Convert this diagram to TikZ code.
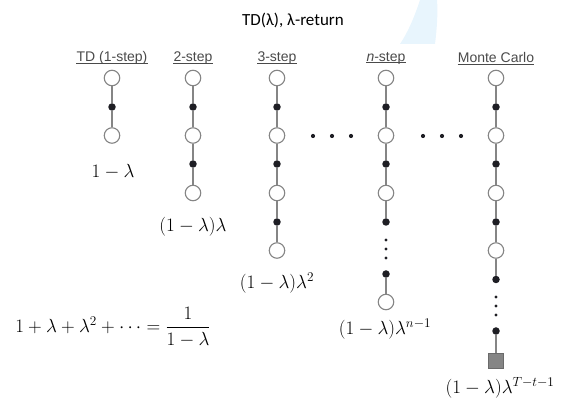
\RequirePackage{fix-cm}
\documentclass[tikz,border=0pt]{standalone}
\usepackage{amsmath}
\usepackage{fontspec}
\newfontfamily\hdrfont{Liberation Sans}
\newfontfamily\titlefont{Carlito}
\definecolor{linegray}{HTML}{858585}
\definecolor{hdrgray}{HTML}{4A4A4A}
\definecolor{dotblack}{HTML}{1E1E24}
\definecolor{paleblue}{HTML}{E8F5FD}
\begin{document}
\begin{tikzpicture}[x=1pt,y=-1pt,
  state/.style={circle,draw=linegray,fill=white,line width=1.1pt,minimum size=15.5pt,inner sep=0pt},
  act/.style={circle,fill=dotblack,minimum size=7.5pt,inner sep=0pt},
  term/.style={rectangle,draw=linegray!80!black,fill=linegray,line width=1pt,minimum size=15pt,inner sep=0pt},
  sdot/.style={circle,fill=dotblack,minimum size=3.2pt,inner sep=0pt},
  hdot/.style={circle,fill=dotblack,minimum size=4.2pt,inner sep=0pt},
  link/.style={draw=linegray,line width=1.1pt},
  hdr/.style={font=\hdrfont\fontsize{14}{16}\selectfont,text=hdrgray,inner sep=0pt},
  uline/.style={draw=hdrgray,line width=0.8pt},
  mlab/.style={font=\fontsize{19}{22}\selectfont,inner sep=0pt}]
\useasboundingbox (0,0) rectangle (582,419);
% pale background shape
\fill[paleblue] (420,0) .. controls (414,18) and (408,32) .. (400,44) -- (435,44) .. controls (437,28) and (438,12) .. (437,0) -- cycle;
% title
\node[font=\titlefont\fontsize{17}{20}\selectfont,inner sep=0pt] (title) at (293,20) {TD(λ), λ-return};
% headers
\node[hdr] (h1) at (112,58) {TD (1-step)};
\node[hdr] (h2) at (193,58) {2-step};
\node[hdr] (h3) at (277,58) {3-step};
\node[hdr] (h4) at (386,58) {\textit{n}-step};
\node[hdr] (h5) at (496,58) {Monte Carlo};
\foreach \h in {h1,h2,h3,h4,h5}
  \draw[uline] ([yshift=-1.6pt]\h.base west) -- ([yshift=-1.6pt]\h.base east);
% column 1
\node[state] (a1) at (112,78) {};
\node[act] (a2) at (112,107) {};
\node[state] (a3) at (112,135.5) {};
\draw[link] (a1) -- (a2) -- (a3);
% column 2
\node[state] (b1) at (193,78) {};
\node[act] (b2) at (193,107) {};
\node[state] (b3) at (193,135.5) {};
\node[act] (b4) at (193,164) {};
\node[state] (b5) at (193,193) {};
\draw[link] (b1) -- (b2) -- (b3) -- (b4) -- (b5);
% column 3
\node[state] (c1) at (277,78) {};
\node[act] (c2) at (277,107) {};
\node[state] (c3) at (277,135.5) {};
\node[act] (c4) at (277,164) {};
\node[state] (c5) at (277,193) {};
\node[act] (c6) at (277,222) {};
\node[state] (c7) at (277,250.5) {};
\draw[link] (c1) -- (c2) -- (c3) -- (c4) -- (c5) -- (c6) -- (c7);
% column 4 (n-step)
\node[state] (d1) at (386,78) {};
\node[act] (d2) at (386,107) {};
\node[state] (d3) at (386,135.5) {};
\node[act] (d4) at (386,164) {};
\node[state] (d5) at (386,193) {};
\node[act] (d6) at (386,222) {};
\node[sdot] (dv1) at (386,240) {};
\node[sdot] (dv2) at (386,249) {};
\node[sdot] (dv3) at (386,258) {};
\node[act] (d7) at (386,274) {};
\node[state] (d8) at (386,302) {};
\draw[link] (d1) -- (d2) -- (d3) -- (d4) -- (d5) -- (d6);
\draw[link] (d7) -- (d8);
% column 5 (Monte Carlo)
\node[state] (e1) at (496,78) {};
\node[act] (e2) at (496,107) {};
\node[state] (e3) at (496,135.5) {};
\node[act] (e4) at (496,164) {};
\node[state] (e5) at (496,193) {};
\node[act] (e6) at (496,222) {};
\node[state] (e7) at (496,250.5) {};
\node[act] (e8) at (496,279.5) {};
\node[sdot] (ev1) at (496,297) {};
\node[sdot] (ev2) at (496,306) {};
\node[sdot] (ev3) at (496,315) {};
\node[act] (e9) at (496,331) {};
\node[term] (e10) at (496,361) {};
\draw[link] (e1) -- (e2) -- (e3) -- (e4) -- (e5) -- (e6) -- (e7) -- (e8);
\draw[link] (e9) -- (e10);
% horizontal ellipses
\node[hdot] (p1) at (313,136) {};
\node[hdot] (p2) at (332,136) {};
\node[hdot] (p3) at (351,136) {};
\node[hdot] (q1) at (423,136) {};
\node[hdot] (q2) at (442,136) {};
\node[hdot] (q3) at (461,136) {};
% weight labels
\node[mlab] (l1) at (113,172) {$1-\lambda$};
\node[mlab] (l2) at (193,227) {$(1-\lambda)\lambda$};
\node[mlab] (l3) at (277,283) {$(1-\lambda)\lambda^2$};
\node[mlab] (l4) at (385,329) {$(1-\lambda)\lambda^{n-1}$};
\node[mlab] (l5) at (500,388) {$(1-\lambda)\lambda^{T-t-1}$};
\node[mlab] (sum) at (113,327) {$1+\lambda+\lambda^2+\cdots=\dfrac{1}{1-\lambda}$};
\end{tikzpicture}
\end{document}
